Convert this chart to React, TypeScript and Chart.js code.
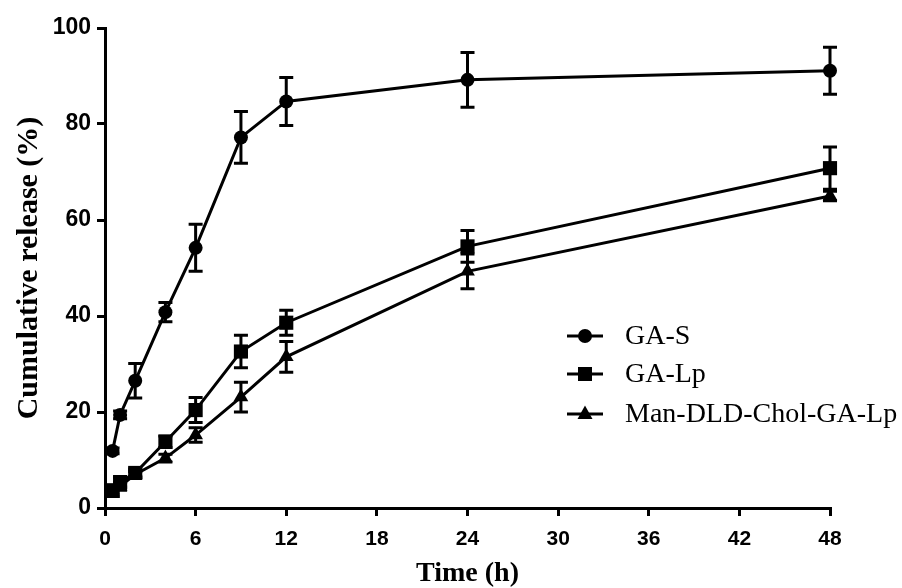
import React, { useEffect, useRef } from 'react';
import { Chart, registerables } from 'chart.js';

Chart.register(...registerables);

const times = [0.5, 1, 2, 4, 6, 9, 12, 24, 48];
const seriesNames = ['GA-S', 'GA-Lp', 'Man-DLD-Chol-GA-Lp'];
const gaS = [11.9, 19.4, 26.5, 40.8, 54.2, 77.2, 84.7, 89.2, 91.1];
const gaSErr = [0.6, 0.8, 3.6, 2.0, 4.9, 5.4, 5.0, 5.7, 4.9];
const gaLp = [3.7, 5.4, 7.3, 13.8, 20.4, 32.6, 38.6, 54.5, 70.8];
const gaLpErr = [0.8, 1.0, 0.8, 1.2, 2.6, 3.4, 2.6, 3.3, 4.4];
const manLp = [3.0, 4.5, 7.0, 10.4, 15.2, 23.1, 31.5, 49.3, 65.0];
const manLpErr = [0.6, 0.8, 0.6, 0.8, 1.5, 3.1, 3.2, 3.6, 1.0];
const pointStyles = ['circle', 'rect', 'triangle'];
const xTicks = [0, 6, 12, 18, 24, 30, 36, 42, 48];
const yTicks = [0, 20, 40, 60, 80, 100];
const xTitle = 'Time (h)';
const yTitle = 'Cumulative release (%)';

const errors = [gaSErr, gaLpErr, manLpErr];
const values = [gaS, gaLp, manLp];

const SANS = '"Liberation Sans", Arial, sans-serif';
const SERIF = '"Liberation Serif", "Times New Roman", serif';

const errorBarPlugin = {
  id: 'errorBars',
  afterDatasetsDraw(chart: any) {
    const ctx = chart.ctx;
    const yScale = chart.scales.y;
    ctx.save();
    ctx.strokeStyle = '#000';
    ctx.lineWidth = 3;
    chart.data.datasets.forEach((ds: any, di: number) => {
      const meta = chart.getDatasetMeta(di);
      const errs = errors[di];
      meta.data.forEach((pt: any, i: number) => {
        const e = errs[i];
        if (!e) return;
        const v = ds.data[i].y;
        const yTop = yScale.getPixelForValue(v + e);
        const yBot = yScale.getPixelForValue(v - e);
        const x = pt.x;
        ctx.beginPath();
        ctx.moveTo(x, yTop);
        ctx.lineTo(x, yBot);
        ctx.moveTo(x - 7, yTop);
        ctx.lineTo(x + 7, yTop);
        ctx.moveTo(x - 7, yBot);
        ctx.lineTo(x + 7, yBot);
        ctx.stroke();
      });
    });
    ctx.restore();
  },
};

function drawMarker(ctx: CanvasRenderingContext2D, style: string, x: number, y: number) {
  ctx.beginPath();
  if (style === 'circle') {
    ctx.arc(x, y, 7, 0, Math.PI * 2);
  } else if (style === 'rect') {
    ctx.rect(x - 7, y - 7, 14, 14);
  } else {
    ctx.moveTo(x, y - 8.5);
    ctx.lineTo(x + 7.5, y + 5);
    ctx.lineTo(x - 7.5, y + 5);
    ctx.closePath();
  }
  ctx.fill();
}

const legendPlugin = {
  id: 'insideLegend',
  afterDraw(chart: any) {
    const ctx = chart.ctx as CanvasRenderingContext2D;
    const area = chart.chartArea;
    const x0 = area.left + 462;
    const ys = [area.top + 308, area.top + 346, area.top + 386];
    ctx.save();
    ctx.fillStyle = '#000';
    ctx.strokeStyle = '#000';
    ctx.lineWidth = 3;
    ctx.font = `28px ${SERIF}`;
    ctx.textBaseline = 'middle';
    ctx.textAlign = 'left';
    seriesNames.forEach((name, i) => {
      const y = ys[i];
      ctx.beginPath();
      ctx.moveTo(x0, y);
      ctx.lineTo(x0 + 36, y);
      ctx.stroke();
      drawMarker(ctx, pointStyles[i], x0 + 18, y);
      ctx.fillText(name, x0 + 58, y + 1);
    });
    ctx.restore();
  },
};

export default function App() {
  const ref = useRef<HTMLCanvasElement | null>(null);

  useEffect(() => {
    document.body.style.margin = '0';
    const canvas = ref.current;
    if (!canvas) return;
    const radii = [7, 10, 8.5];
    const chart = new Chart(canvas, {
      type: 'scatter',
      data: {
        datasets: seriesNames.map((name, di) => ({
          label: name,
          data: times.map((t, i) => ({ x: t, y: values[di][i] })),
          showLine: true,
          borderColor: '#000',
          backgroundColor: '#000',
          borderWidth: 3,
          pointStyle: pointStyles[di] as any,
          pointRadius: radii[di],
          pointBorderWidth: 0,
          pointBackgroundColor: '#000',
          pointBorderColor: '#000',
          tension: 0,
          clip: false as any,
        })),
      },
      options: {
        responsive: false,
        animation: false,
        layout: { padding: { left: 0, top: 28, right: 72, bottom: 0 } },
        plugins: {
          legend: { display: false },
          tooltip: { enabled: false },
        },
        scales: {
          x: {
            type: 'linear',
            min: 0,
            max: 48,
            afterFit(scale: any) {
              scale.height = 80;
            },
            afterBuildTicks(scale: any) {
              scale.ticks = xTicks.map((v) => ({ value: v }));
            },
            border: { display: true, color: '#000', width: 3 },
            grid: { drawOnChartArea: false, drawTicks: true, tickLength: 8, color: '#000', lineWidth: 3 },
            ticks: {
              color: '#000',
              padding: 11,
              maxRotation: 0,
              font: { family: SANS, size: 21, weight: 'bold' },
            },
            title: {
              display: true,
              text: xTitle,
              color: '#000',
              font: { family: SERIF, size: 28, weight: 'bold', lineHeight: 1 },
              padding: { top: 0, bottom: 0 },
            },
          },
          y: {
            type: 'linear',
            min: 0,
            max: 100,
            afterFit(scale: any) {
              scale.width = 105;
            },
            afterBuildTicks(scale: any) {
              scale.ticks = yTicks.map((v) => ({ value: v }));
            },
            border: { display: true, color: '#000', width: 3 },
            grid: { drawOnChartArea: false, drawTicks: true, tickLength: 8, color: '#000', lineWidth: 3 },
            ticks: {
              color: '#000',
              padding: 6,
              font: { family: SANS, size: 23, weight: 'bold' },
            },
            title: {
              display: true,
              text: yTitle,
              color: '#000',
              font: { family: SERIF, size: 30, weight: 'bold', lineHeight: 1 },
              padding: { top: 14, bottom: 0 },
            },
          },
        },
      },
      plugins: [errorBarPlugin, legendPlugin],
    });
    return () => chart.destroy();
  }, []);

  return (
    <div style={{ position: 'absolute', left: 0, top: 0, width: 902, height: 588, background: '#fff' }}>
      <canvas ref={ref} width={902} height={588} />
    </div>
  );
}
